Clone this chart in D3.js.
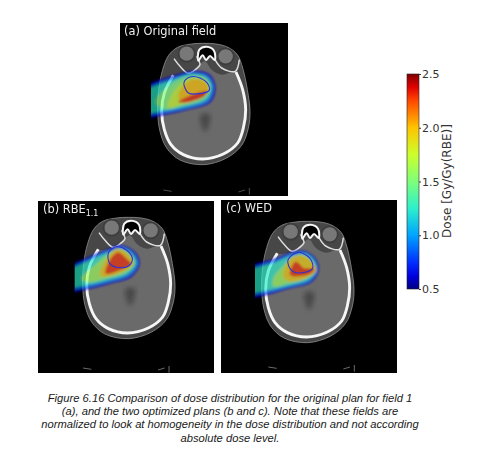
<!DOCTYPE html>
<html><head><meta charset="utf-8">
<script src="https://cdn.jsdelivr.net/npm/d3@7"></script>
<style>
html,body{margin:0;padding:0;background:#fff;overflow:hidden}
svg{display:block}
</style></head><body><svg id="c" width="480" height="453"></svg>
<script>
// ---- Data (coordinates are in image-reading units of each panel) ----
const panelLabels = ["(a) Original field", "(b) RBE", "(c) WED"];
const colorTicks = [0.5, 1.0, 1.5, 2.0, 2.5];
const colorLabel = "Dose [Gy/Gy(RBE)]";
const jetDoses = [0.5, 0.62, 0.75, 1.0, 1.25, 1.5, 1.75, 2.0, 2.25, 2.38, 2.5];
const jetColors = ["#00007f", "#0000e0", "#0030ff", "#00a4ff", "#2cf0cc", "#7eff7a", "#ccff2c", "#ffc400", "#ff4800", "#e00000", "#7f0000"];
const captionLines = [
  "Figure 6.16 Comparison of dose distribution for the original plan for field 1",
  "(a), and the two optimized plans (b and c). Note that these fields are",
  "normalized to look at homogeneity in the dose distribution and not according",
  "absolute dose level."
];
// anatomy, in panel (a) reading units
const headOutline = [[280,86],[318,88],[354,98],[382,120],[398,160],[412,225],[420,290],[415,340],[395,392],[350,430],[280,450],[210,436],[170,400],[150,350],[143,290],[146,225],[158,165],[176,122],[203,98],[245,88]];
const brainOutline = [[285,140],[305,165],[335,180],[378,172],[398,225],[407,285],[400,340],[383,385],[340,418],[278,433],[220,420],[183,390],[163,345],[155,290],[163,235],[185,190],[235,178],[268,150]];
const skullArc = [[190,182],[163,235],[155,290],[163,345],[183,390],[220,420],[278,433],[340,418],[383,385],[400,340],[407,285],[398,225],[378,172]];
const orbitCenters = [[230,117],[347,125]];
const wingLeft = [[192,132],[210,155],[235,176],[262,160],[270,150],[260,125]];
const wingRight = [[388,135],[376,170],[335,160],[315,135]];
const nasalCavity = [[268,105],[290,96],[312,108],[314,136],[300,124],[288,136],[278,122],[265,138]];
const ventricle = [[272,300],[300,300],[296,335],[285,352],[275,335]];
const holderMarks = [[[160,526],[185,530]],[[385,532],[405,526]],[[418,520],[418,540]]];
// isodose contours per plan: [dose, polygon]
const doseLevelsA = [
 [0.62,[[95,225],[190,182],[250,168],[297,177],[317,215],[302,263],[230,287],[170,300],[95,307]]],
 [0.95,[[95,234],[190,190],[250,175],[292,184],[310,215],[296,258],[230,281],[170,293],[95,298]]],
 [1.25,[[95,240],[190,196],[250,179],[288,188],[304,215],[290,253],[226,275],[165,287],[95,292]]],
 [1.5,[[135,262],[190,204],[250,184],[286,192],[300,218],[285,250],[222,271],[165,283]]],
 [1.75,[[180,250],[215,205],[250,190],[285,197],[297,222],[280,247],[220,268],[175,278]]],
 [2.0,[[205,245],[225,208],[255,193],[285,203],[296,225],[278,245],[220,266]]],
 [2.32,[[205,262],[250,239],[292,229],[284,244],[240,261]]]
];
const doseLevelsB = [
 [0.62,[[105,225],[180,184],[240,160],[270,149],[315,169],[331,205],[306,246],[240,267],[180,282],[105,290]]],
 [0.95,[[105,233],[180,191],[240,166],[272,155],[310,173],[325,205],[300,241],[237,261],[177,275],[105,282]]],
 [1.25,[[105,239],[180,197],[240,171],[272,160],[306,177],[318,205],[295,235],[232,256],[172,269],[105,275]]],
 [1.6,[[155,252],[200,207],[245,172],[272,163],[302,180],[314,205],[290,231],[228,250],[180,262]]],
 [1.95,[[210,240],[232,190],[262,162],[296,178],[310,205],[288,226],[232,245]]],
 [2.3,[[228,236],[240,195],[265,172],[290,190],[304,207],[285,220]]]
];
const doseLevelsC = [
 [0.62,[[95,222],[180,190],[240,168],[272,168],[302,190],[312,225],[290,262],[220,282],[160,299],[95,306]]],
 [0.95,[[95,230],[180,197],[240,174],[272,173],[298,193],[307,225],[286,257],[218,277],[157,292],[95,298]]],
 [1.25,[[95,236],[180,203],[240,179],[272,178],[294,196],[303,225],[282,252],[216,272],[153,286],[95,292]]],
 [1.6,[[175,250],[205,212],[240,184],[270,182],[292,199],[301,225],[278,248],[215,266],[175,274]]],
 [1.95,[[205,245],[222,195],[258,181],[290,201],[304,226],[278,247],[226,260]]],
 [2.3,[[225,240],[240,200],[252,205],[265,218],[298,222],[284,238]]]
];
const targetA = [[222,203],[240,187],[270,190],[295,210],[297,228],[270,237],[235,235],[225,220]];
const targetB = [[237,172],[262,155],[290,165],[308,190],[300,210],[270,218],[240,205]];
const targetC = [[220,192],[250,172],[285,190],[293,220],[270,232],[235,230],[222,215]];

// ---- Layout ----
const panels = [
 {x0:120,y0:23,x1:288,y1:196,zx:30,zy:25,dx:0,dy:0,levels:doseLevelsA,target:targetA,beam:123,lx:124,ly:35},
 {x0:38,y0:201,x1:214,y1:373,zx:25,zy:18,dx:16,dy:-19,levels:doseLevelsB,target:targetB,beam:135,lx:43,ly:213},
 {x0:221,y0:200,x1:397,y1:373,zx:18,zy:15,dx:-3,dy:-7,levels:doseLevelsC,target:targetC,beam:120,lx:226,ly:212}
];
const svg = d3.select("#c");
const defs = svg.append("defs");
const color = d3.scaleLinear().domain(jetDoses).range(jetColors);
const addBlur = (id,s)=>defs.append("filter").attr("id",id).attr("x","-20%").attr("y","-20%").attr("width","140%").attr("height","140%")
  .append("feGaussianBlur").attr("stdDeviation",s);
addBlur("b05",0.6); addBlur("b1",1.2); addBlur("b2",2.5); addBlur("b3",0.3);

panels.forEach((p,i)=>{
  const sx = d3.scaleLinear().domain([p.zx,p.zx+3*(p.x1-p.x0)]).range([p.x0,p.x1]);
  const sy = d3.scaleLinear().domain([p.zy,p.zy+3*(p.y1-p.y0)]).range([p.y0,p.y1]);
  const hx = v=>sx(v+p.dx), hy = v=>sy(v+p.dy);
  const closed = d3.line().x(d=>hx(d[0])).y(d=>hy(d[1])).curve(d3.curveCatmullRomClosed.alpha(0.5));
  const open = d3.line().x(d=>hx(d[0])).y(d=>hy(d[1])).curve(d3.curveCatmullRom.alpha(0.5));
  const doseLine = d3.line().x(d=>sx(d[0])).y(d=>sy(d[1])).curve(d3.curveCatmullRomClosed.alpha(0.5));
  const g = svg.append("g");
  g.append("rect").attr("x",p.x0).attr("y",p.y0).attr("width",p.x1-p.x0).attr("height",p.y1-p.y0).attr("fill","#000");
  const clipId="cp"+i;
  defs.append("clipPath").attr("id",clipId).append("rect").attr("x",sx(p.beam)).attr("y",p.y0).attr("width",p.x1-sx(p.beam)).attr("height",p.y1-p.y0);
  const a = g.append("g").attr("filter","url(#b05)");
  a.append("path").attr("d",closed(headOutline)).attr("fill","#464646").attr("stroke","#858585").attr("stroke-width",0.9);
  a.append("path").attr("d",closed(brainOutline)).attr("fill","#6a6a6a");
  a.append("path").attr("d",open(skullArc)).attr("fill","none").attr("stroke","#f6f6f6").attr("stroke-width",2.9);
  orbitCenters.forEach(c=>{
    a.append("circle").attr("cx",hx(c[0])).attr("cy",hy(c[1])).attr("r",8).attr("fill","#787878").attr("stroke","#3c3c3c").attr("stroke-width",1.6);
  });
  [wingLeft,wingRight].forEach(w=>{
    a.append("path").attr("d",open(w)).attr("fill","none").attr("stroke","#dedede").attr("stroke-width",1.5);
  });
  a.append("path").attr("d",closed(nasalCavity)).attr("fill","#050505").attr("stroke","#f6f6f6").attr("stroke-width",2);
  a.append("path").attr("d",closed(ventricle)).attr("fill","#4a4a4a").attr("filter","url(#b2)");
  holderMarks.forEach(m=>{
    a.append("path").attr("d",d3.line().x(d=>sx(d[0])).y(d=>sy(d[1]+(p.zy-25)))(m)).attr("stroke",i?"#777":"#555").attr("stroke-width",0.9).attr("fill","none");
  });
  const clip = g.append("g").attr("clip-path","url(#"+clipId+")");
  const dose = clip.append("g").attr("opacity",0.66).attr("filter","url(#b1)");
  p.levels.forEach(l=>{
    dose.append("path").attr("d",doseLine(l[1])).attr("fill",color(l[0]));
  });
  g.append("path").attr("d",doseLine(p.target)).attr("fill","none").attr("stroke","#3030d8").attr("stroke-width",1.1).attr("filter","url(#b3)");
  const t = g.append("text").attr("x",p.lx).attr("y",p.ly).attr("fill","#efefef").attr("font-family","DejaVu Sans").attr("font-size",11.4).attr("filter","url(#b3)").text(panelLabels[i]);
  if(i===1) t.append("tspan").attr("font-size",8).attr("dy",2.5).text("1.1");
});

// Colour bar
const barX=407, barW=12, barTop=74, barBot=289;
const grad = defs.append("linearGradient").attr("id","jet").attr("x1",0).attr("y1",1).attr("x2",0).attr("y2",0);
const ext = d3.extent(jetDoses);
jetDoses.forEach((d,i)=>grad.append("stop").attr("offset",(d-ext[0])/(ext[1]-ext[0])).attr("stop-color",jetColors[i]));
svg.append("rect").attr("x",barX).attr("y",barTop).attr("width",barW).attr("height",barBot-barTop).attr("fill","url(#jet)").attr("stroke","#222").attr("stroke-width",0.6);
const yScale = d3.scaleLinear().domain(ext).range([barBot,barTop]);
const ax = svg.append("g").attr("transform",`translate(${barX+barW},0)`)
  .call(d3.axisRight(yScale).tickValues(colorTicks).tickFormat(d3.format(".1f")).tickSize(2).tickPadding(1));
ax.select(".domain").remove();
ax.selectAll("line").attr("stroke","#333");
ax.selectAll("text").attr("font-family","DejaVu Sans").attr("font-size",11).attr("fill","#333");
svg.append("text").attr("transform","translate(451,181) rotate(-90)").attr("text-anchor","middle")
  .attr("font-family","DejaVu Sans").attr("font-size",12).attr("fill","#333").text(colorLabel);

// Caption
svg.append("g").selectAll("text").data(captionLines).join("text")
  .attr("x",230).attr("y",(d,i)=>402+i*13.2).attr("text-anchor","middle")
  .attr("font-family","Liberation Sans").attr("font-style","italic").attr("font-size",11.2).attr("fill","#1a1a1a").text(d=>d);
</script></body></html>
